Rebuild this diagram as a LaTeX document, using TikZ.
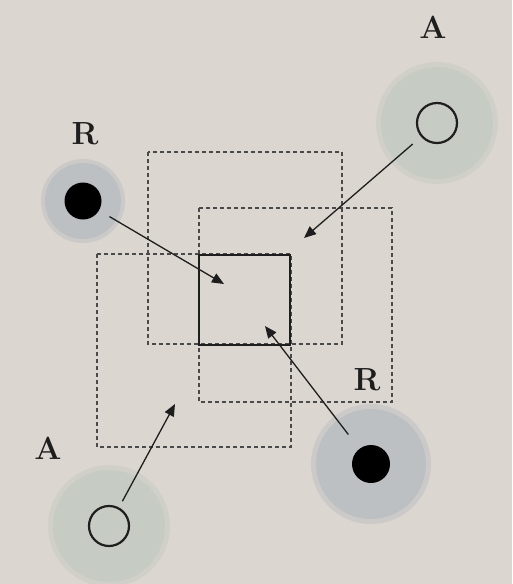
\documentclass[tikz,border=0pt]{standalone}
\usetikzlibrary{arrows.meta}
\definecolor{bg}{HTML}{DCD6D0}
\definecolor{haloA}{HTML}{C6CCC4}
\definecolor{haloR}{HTML}{BCC0C2}
\definecolor{ink}{HTML}{1E1E1E}
\definecolor{dash}{HTML}{4A4A4A}
\tikzset{
  dashbox/.style={draw=dash, line width=1.8pt, dash pattern=on 4pt off 3pt},
  solidbox/.style={draw=ink, line width=2.8pt},
  ringA/.style={circle, draw=ink, line width=2.2pt, minimum size=40pt, inner sep=0pt},
  dotR/.style={circle, fill=black, minimum size=37pt, inner sep=0pt},
  halo/.style={circle, inner sep=0pt},
  lbl/.style={font=\fontsize{32}{34}\selectfont\bfseries, text=ink, inner sep=0pt},
  conn/.style={draw=ink, line width=1.3pt, -{Triangle[length=12pt,width=10pt]}}
}
\begin{document}
\begin{tikzpicture}[x=1pt,y=-1pt]
\fill[bg] (0,0) rectangle (512,584);
\useasboundingbox (0,0) rectangle (512,584);
% halos
\node[halo, fill=haloR, opacity=0.5, minimum size=84pt] at (83,201) {};
\node[halo, fill=haloR, minimum size=76pt] (hR1) at (83,201) {};
\node[halo, fill=haloA, opacity=0.5, minimum size=122pt] at (437,123) {};
\node[halo, fill=haloA, minimum size=112pt] (hA1) at (437,123) {};
\node[halo, fill=haloR, opacity=0.5, minimum size=120pt] at (371,464) {};
\node[halo, fill=haloR, minimum size=110pt] (hR2) at (371,464) {};
\node[halo, fill=haloA, opacity=0.5, minimum size=122pt] at (109,526) {};
\node[halo, fill=haloA, minimum size=112pt] (hA2) at (109,526) {};
% dashed boxes
\draw[dashbox] (148,152) rectangle (342,344);
\draw[dashbox] (199,208) rectangle (392,402);
\draw[dashbox] (97,254) rectangle (291,447);
% solid box
\draw[solidbox] (199,255) rectangle (290,345);
% inner markers
\node[dotR] (r1) at (83,201) {};
\node[ringA] (a1) at (437,123) {};
\node[dotR, minimum size=38pt] (r2) at (371,464) {};
\node[ringA] (a2) at (109,526) {};
% labels
\node[lbl] (lr1) at (85,134) {R};
\node[lbl] (la1) at (433,27) {A};
\node[lbl] (lr2) at (367,380) {R};
\node[lbl] (la2) at (48,448) {A};
% arrow tips
\coordinate (t1) at (224,284);
\coordinate (t2) at (304,238);
\coordinate (t3) at (265,326);
\coordinate (t4) at (175,404);
\draw[conn, shorten <=12pt] (r1) -- (t1);
\draw[conn, shorten <=11pt] (a1) -- (t2);
\draw[conn, shorten <=18pt] (r2) -- (t3);
\draw[conn, shorten <=7pt] (a2) -- (t4);
\end{tikzpicture}
\end{document}
